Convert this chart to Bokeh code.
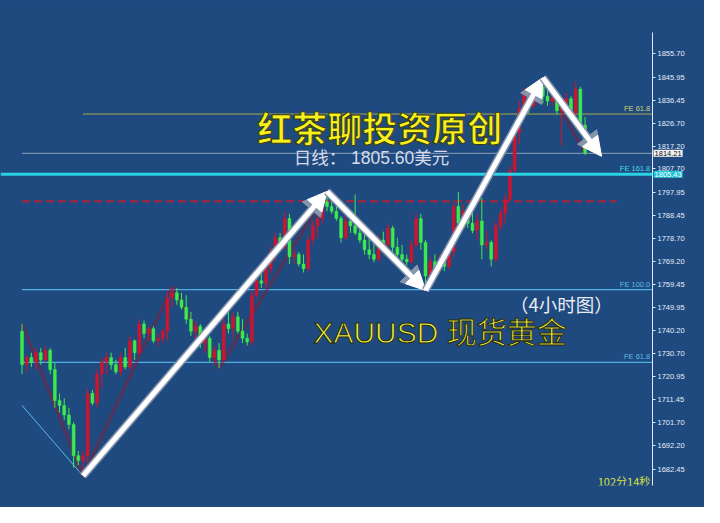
from bokeh.plotting import figure
from bokeh.models import (Range1d, FixedTicker, PrintfTickFormatter, Label, Span,
                          Arrow, NormalHead, ColumnDataSource)
from bokeh.embed import file_html
from bokeh.resources import INLINE

# ---------------- data (XAUUSD 4H candles) ----------------
opens = [1740, 1726, 1729, 1727, 1731, 1728, 1732, 1724, 1711, 1709,
         1705, 1701, 1688, 1686, 1688, 1714, 1710, 1722, 1727, 1729,
         1726, 1723, 1729, 1725, 1736, 1731, 1743, 1739, 1741, 1736,
         1737, 1740, 1754, 1756, 1753, 1750, 1745, 1740, 1742, 1735,
         1737, 1729, 1732, 1728, 1743, 1741, 1746, 1740, 1737, 1735.5,
         1755, 1761, 1760, 1766, 1773, 1779, 1775, 1787, 1771, 1772,
         1768, 1766, 1778, 1784, 1787, 1794, 1792, 1790, 1787, 1779,
         1786, 1784, 1781, 1778, 1774, 1772, 1770, 1778, 1776, 1783,
         1775, 1772, 1770, 1769, 1776, 1787, 1777, 1763, 1769, 1766,
         1770, 1767, 1773, 1792, 1785, 1790, 1785, 1782, 1786, 1776,
         1777, 1770, 1784, 1789, 1795, 1807, 1823, 1833, 1839, 1834,
         1839, 1842, 1838, 1836, 1837.5, 1832, 1834, 1837, 1831, 1841,
         1826]
highs = [1743, 1730, 1731, 1733, 1733, 1734, 1733, 1727, 1714, 1712,
         1708, 1702, 1690, 1690, 1716, 1715.5, 1724, 1729, 1731, 1731,
         1728, 1731, 1733, 1738, 1736.5, 1745, 1744.5, 1742, 1742, 1739,
         1741, 1757, 1758.5, 1758, 1756, 1755, 1748, 1744, 1743, 1739,
         1738, 1734, 1735, 1745, 1748, 1748, 1748, 1745, 1739, 1757,
         1763, 1766, 1768, 1775, 1781, 1781, 1790, 1789, 1774, 1773,
         1772, 1780, 1786, 1789, 1796, 1798.3, 1797, 1794, 1788, 1789,
         1788, 1797, 1785, 1782, 1780, 1777, 1780, 1781.5, 1785, 1784,
         1779, 1776, 1772, 1778, 1789, 1789, 1778, 1771, 1772, 1772,
         1772, 1775, 1794, 1798, 1793, 1790.5, 1791, 1789, 1795.5, 1782,
         1778, 1786, 1791, 1797, 1809, 1825, 1836, 1841.5, 1840, 1841,
         1844, 1845.8, 1841.5, 1839.5, 1838, 1837, 1839.5, 1838, 1844, 1842,
         1829.4]
lows = [1722, 1723, 1725, 1724, 1726, 1727, 1722, 1708, 1706, 1703,
        1699, 1683, 1684, 1679.6, 1685, 1709, 1708, 1716, 1722, 1724,
        1722, 1721, 1724, 1724, 1728, 1730, 1737, 1736, 1735, 1733.5,
        1735, 1736, 1750, 1751, 1749, 1743, 1738, 1736, 1733, 1731,
        1727, 1726, 1724.5, 1727, 1739, 1737, 1739, 1735, 1734, 1734,
        1754, 1758, 1758, 1764, 1769, 1773, 1774, 1768, 1768, 1767,
        1764.5, 1765, 1776, 1779, 1785, 1790, 1789, 1786, 1777, 1778,
        1781, 1780, 1776.8, 1772, 1770, 1768.7, 1769, 1775, 1775, 1773,
        1771, 1769, 1767.5, 1768, 1775, 1774, 1757, 1761, 1764, 1765,
        1765, 1766, 1771, 1782, 1784, 1783, 1780.8, 1778, 1770, 1774,
        1767, 1769, 1782, 1785, 1794, 1806, 1818, 1831, 1831, 1833,
        1835, 1835, 1834, 1834, 1830.5, 1817.3, 1832, 1829, 1830, 1824,
        1813.5]
closes = [1726, 1729, 1727, 1731, 1728, 1732, 1724, 1711, 1709, 1705,
          1701, 1688, 1686, 1688, 1714, 1710, 1722, 1727, 1729, 1726,
          1723, 1729, 1725, 1736, 1731, 1743, 1739, 1741, 1736, 1737,
          1740, 1754, 1756, 1753, 1750, 1745, 1740, 1742, 1735, 1737,
          1729, 1732, 1728, 1743, 1741, 1746, 1740, 1737, 1735.5, 1755,
          1761, 1760, 1766, 1773, 1779, 1775, 1787, 1771, 1772, 1768,
          1766, 1778, 1784, 1787, 1794, 1792, 1790, 1787, 1779, 1786,
          1784, 1781, 1778, 1774, 1772, 1770, 1778, 1776, 1783, 1775,
          1772, 1770, 1769, 1776, 1787, 1777, 1763, 1769, 1766, 1770,
          1767, 1773, 1792, 1785, 1790, 1785, 1782, 1786, 1776, 1777,
          1770, 1784, 1789, 1795, 1807, 1823, 1833, 1839, 1834, 1839,
          1842, 1838, 1836, 1837.5, 1832, 1834, 1837, 1831, 1841, 1826,
          1814.21]

# swing points (candle index, 'H' or 'L') used by the zigzag and the arrows
swing_idx = [0, 13, 32, 42, 65, 86, 111]
swing_kind = ["H", "L", "H", "L", "H", "L", "H"]
# projected end of the last arrow
target_idx = 123.5
target_price = 1813.0

tick_values = [1682.45, 1692.20, 1701.70, 1711.45, 1720.95, 1730.70, 1740.20,
               1749.95, 1759.45, 1769.20, 1778.70, 1788.45, 1797.95, 1807.70,
               1817.20, 1826.70, 1836.45, 1845.95, 1855.70]

fe_upper_618 = 1830.6
current_price = 1814.21
fe_1618 = 1805.43
daily_level = 1794.2
fe_1000 = 1757.3
fe_618 = 1727.0
fe_base_idx = [0, 13]
fe_base_price = [1709.0, 1679.6]

title_cn = "红茶聊投资原创"
daily_text = "日线：  1805.60美元"
symbol_text = "XAUUSD 现货黄金"
period_text = "（4小时图）"
timer_text = "102分14秒"

# ---------------- figure ----------------
BG = "#1f4a80"
X0, X1 = -4.583, 134.375
Y0, Y1 = 1675.57, 1864.64
p = figure(width=704, height=507, output_backend="svg", toolbar_location=None,
           x_range=Range1d(X0, X1), y_range=Range1d(Y0, Y1),
           x_axis_location=None, y_axis_location="right",
           min_border_left=0, min_border_right=52, min_border_top=32,
           min_border_bottom=22, background_fill_color=BG,
           border_fill_color=BG)
p.outline_line_color = None
p.grid.visible = False
p.styles = {"background-color": BG}

ax = p.yaxis[0]
ax.ticker = FixedTicker(ticks=tick_values)
ax.formatter = PrintfTickFormatter(format="%.2f")
ax.axis_line_color = "#dfe8f4"
ax.major_tick_line_color = "#dfe8f4"
ax.major_tick_in = 0
ax.major_tick_out = 3
ax.minor_tick_line_color = None
ax.major_label_text_color = "#e6ecf5"
ax.major_label_text_font_size = "7.5px"
ax.major_label_text_font = "Liberation Sans"
ax.major_label_standoff = 2

# ---------------- level lines ----------------
p.segment(x0=[13], y0=[fe_upper_618], x1=[X1], y1=[fe_upper_618],
          line_color="#a9a84a", line_width=1)
p.segment(x0=[0], y0=[current_price], x1=[X1], y1=[current_price],
          line_color="#8fa0b8", line_width=1)
p.add_layout(Span(location=fe_1618, dimension="width", line_color="#2ad2e4",
                  line_width=3))
p.segment(x0=[0], y0=[daily_level], x1=[126.7], y1=[daily_level],
          line_color="#a8223c", line_width=2, line_dash="8 4")
p.segment(x0=[0, 0], y0=[fe_1000, fe_618], x1=[X1, X1], y1=[fe_1000, fe_618],
          line_color="#4fb0e4", line_width=1.3)
p.line(fe_base_idx, fe_base_price, line_color="#5cbbe8", line_width=1)

# ---------------- zigzag ----------------
zx = [i for i in swing_idx] + [len(closes) - 1]
zy = [highs[i] if k == "H" else lows[i] for i, k in zip(swing_idx, swing_kind)] + [closes[-1]]
p.line(zx, zy, line_color="#8e1a30", line_width=3, alpha=0.5)

# ---------------- candles ----------------
idx = list(range(len(closes)))
cols = ["#d0142e" if c >= o else "#3cec4c" for o, c in zip(opens, closes)]
src = ColumnDataSource(dict(x=idx, o=opens, h=highs, l=lows, c=closes,
                            top=[max(a, b) for a, b in zip(opens, closes)],
                            bot=[min(a, b) for a, b in zip(opens, closes)],
                            col=cols))
p.segment(x0="x", y0="l", x1="x", y1="h", line_color="col", line_width=1, source=src)
p.vbar(x="x", width=0.62, top="top", bottom="bot", fill_color="col",
       line_color="col", line_width=0.5, source=src)

# ---------------- arrows ----------------
pts = [(i, highs[i] if k == "H" else lows[i]) for i, k in zip(swing_idx, swing_kind)]
arrow_legs = [(pts[1], pts[4]), (pts[4], pts[5]), (pts[5], pts[6]),
              (pts[6], (target_idx, target_price))]
for (xa, ya), (xb, yb) in arrow_legs:
    p.add_layout(Arrow(x_start=xa, y_start=ya, x_end=xb, y_end=yb,
                       line_color="#8796ad", line_width=8,
                       end=NormalHead(size=24, fill_color="#8796ad",
                                      line_color="#8796ad")))
    p.add_layout(Arrow(x_start=xa, y_start=ya, x_end=xb, y_end=yb,
                       line_color="white", line_width=5,
                       end=NormalHead(size=19, fill_color="white",
                                      line_color="white")))

# ---------------- level labels ----------------
def lvl_label(txt, y, col):
    p.add_layout(Label(x=133.9, y=y + 0.4, text=txt, text_align="right",
                       text_baseline="bottom", text_font="Liberation Sans",
                       text_font_size="7.5px", text_color=col))

lvl_label("FE 61.8", fe_upper_618, "#d0d070")
lvl_label("FE 161.8", fe_1618, "#44dcec")
lvl_label("FE 100.0", fe_1000, "#5cbbe8")
lvl_label("FE 61.8", fe_618, "#5cbbe8")

# price boxes on the axis: placed in the (unclipped) top side panel, data coords
p.add_layout(Label(x=134.6, y=current_price, text="%.2f" % current_price,
                   text_baseline="middle", text_font="Liberation Sans",
                   text_font_size="7.5px", text_color="#111111",
                   background_fill_color="#f2f2f2", padding=1), "above")
p.add_layout(Label(x=134.6, y=fe_1618, text="%.2f" % fe_1618,
                   text_baseline="middle", text_font="Liberation Sans",
                   text_font_size="7.5px", text_color="#ffffff",
                   background_fill_color="#22c4d6", padding=1), "above")

# ---------------- texts ----------------
p.add_layout(Label(x=76.25, y=1825.3, text=title_cn, text_align="center",
                   text_baseline="middle", text_font="Noto Sans CJK SC",
                   text_font_style="bold", text_font_size="35px",
                   text_color="#f6f01e", text_outline_color="#3a3a10"))
p.add_layout(Label(x=57.9, y=1812.4, text=daily_text, text_align="left",
                   text_baseline="middle",
                   text_font="Liberation Sans, Noto Sans CJK SC",
                   text_font_size="17.5px", text_color="#d6dce8"))
p.add_layout(Label(x=62.1, y=1739.5, text=symbol_text, text_align="left",
                   text_baseline="middle",
                   text_font="Liberation Sans, Noto Sans CJK SC",
                   text_font_size="30px", text_color="#eef23c",
                   text_outline_color="#2a2a10"))
p.add_layout(Label(x=104.0, y=1751.3, text=period_text, text_align="left",
                   text_baseline="middle", text_font="Noto Sans CJK SC",
                   text_font_size="18.5px", text_color="#e8ebf2"))
p.add_layout(Label(x=133.9, y=1677.6, text=timer_text, text_align="right",
                   text_baseline="middle", text_font="Noto Sans CJK SC",
                   text_font_size="11px", text_color="#d8e040"))

open("out.html", "w").write(file_html(p, INLINE))
